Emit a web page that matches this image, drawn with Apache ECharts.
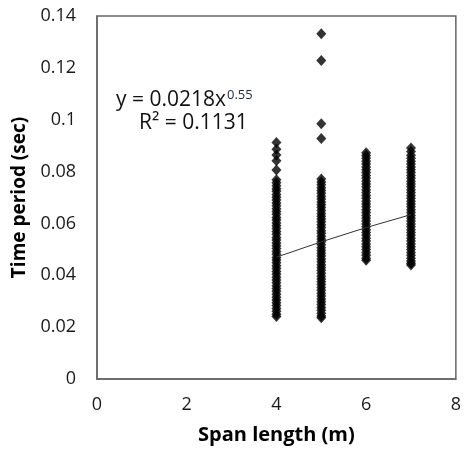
<!DOCTYPE html>
<html><head><meta charset="utf-8">
<script src="https://cdn.jsdelivr.net/npm/echarts@6/dist/echarts.min.js"></script>
<style>html,body{margin:0;padding:0;background:#fff}#c{width:464px;height:452px}</style>
</head><body><div id="c"></div>
<script>
// Span length categories (m)
const spans = [4, 5, 6, 7];
// Time period values (sec) read per span
const period4 = [0.0912,0.0886,0.0864,0.0842,0.0806,0.0768,0.0757,0.0745,0.0734,0.0724,0.0712,0.0701,0.0690,0.0679,0.0668,0.0657,0.0646,0.0635,0.0623,0.0613,0.0602,0.0591,0.0580,0.0569,0.0558,0.0546,0.0536,0.0525,0.0514,0.0503,0.0492,0.0481,0.0469,0.0459,0.0448,0.0437,0.0426,0.0415,0.0404,0.0392,0.0382,0.0371,0.0360,0.0349,0.0338,0.0327,0.0315,0.0305,0.0294,0.0283,0.0272,0.0261,0.0250,0.0241];
const period5 = [0.1332,0.1228,0.0984,0.0928,0.0771,0.0760,0.0749,0.0738,0.0727,0.0716,0.0705,0.0694,0.0683,0.0672,0.0661,0.0650,0.0638,0.0628,0.0617,0.0606,0.0595,0.0584,0.0572,0.0562,0.0551,0.0540,0.0529,0.0518,0.0506,0.0496,0.0485,0.0474,0.0463,0.0452,0.0441,0.0430,0.0419,0.0408,0.0396,0.0386,0.0375,0.0364,0.0353,0.0342,0.0331,0.0320,0.0309,0.0298,0.0287,0.0276,0.0265,0.0254,0.0243,0.0236];
const period6 = [0.0873,0.0862,0.0851,0.0840,0.0829,0.0818,0.0807,0.0796,0.0785,0.0774,0.0763,0.0752,0.0741,0.0730,0.0719,0.0708,0.0697,0.0686,0.0675,0.0664,0.0653,0.0642,0.0631,0.0620,0.0609,0.0598,0.0587,0.0576,0.0565,0.0554,0.0543,0.0532,0.0521,0.0510,0.0499,0.0488,0.0477,0.0466,0.0458];
const period7 = [0.0891,0.0877,0.0863,0.0851,0.0840,0.0829,0.0818,0.0807,0.0796,0.0785,0.0774,0.0763,0.0752,0.0741,0.0730,0.0719,0.0708,0.0697,0.0686,0.0675,0.0664,0.0653,0.0642,0.0631,0.0620,0.0609,0.0598,0.0587,0.0576,0.0565,0.0554,0.0543,0.0532,0.0521,0.0510,0.0499,0.0488,0.0477,0.0466,0.0455,0.0446,0.0440];
// Power trendline y = 0.0218 x^0.55, evaluated at the spans
const trendX = [4, 5, 6, 7];
const trendY = [0.0470, 0.0529, 0.0584, 0.0634];
// Axis ticks
const xTicks = [0, 2, 4, 6, 8];
const yTicks = [0, 0.02, 0.04, 0.06, 0.08, 0.1, 0.12, 0.14];

const columns = [period4, period5, period6, period7];
const scatterData = [];
columns.forEach((col, i) => col.forEach(v => scatterData.push([spans[i], v])));

const FONT = '"Open Sans", "Noto Sans", sans-serif';
const chart = echarts.init(document.getElementById('c'));
chart.setOption({
  animation: false,
  backgroundColor: '#fff',
  grid: {left: 97, top: 16, width: 364, height: 363, show: true, borderColor: '#666', borderWidth: 1.5, containLabel: false},
  xAxis: {
    type: 'value', min: xTicks[0], max: xTicks[xTicks.length-1], interval: 2,
    name: 'Span length (m)', nameLocation: 'middle', nameGap: 46,
    nameTextStyle: {fontFamily: FONT, fontWeight: 'bold', fontSize: 20, color: '#000'},
    axisLine: {show: true, onZero: false, lineStyle: {color: '#666', width: 1.5}},
    axisTick: {show: false},
    splitLine: {show: false},
    axisLabel: {fontFamily: FONT, fontSize: 18, color: '#1a1a1a', margin: 17}
  },
  yAxis: {
    type: 'value', min: yTicks[0], max: yTicks[yTicks.length-1], interval: 0.02,
    name: 'Time period (sec)', nameLocation: 'middle', nameGap: 62,
    nameTextStyle: {fontFamily: FONT, fontWeight: 'bold', fontSize: 19, color: '#000'},
    axisLine: {show: true, onZero: false, lineStyle: {color: '#666', width: 1.5}},
    axisTick: {show: false},
    splitLine: {show: false},
    axisLabel: {fontFamily: FONT, fontSize: 18, color: '#1a1a1a', margin: 21}
  },
  series: [
    {type: 'scatter', data: scatterData, symbol: 'diamond', symbolSize: [10, 11],
     itemStyle: {color: '#000'}},
    {type: 'line', data: trendX.map((x, i) => [x, trendY[i]]), showSymbol: false, symbol: 'none',
     lineStyle: {color: '#333', width: 1}, z: 3}
  ],
  graphic: [
    {type: 'text', left: 116, top: 89, style: {
      rich: {a: {fontFamily: FONT, fontSize: 21, fill: '#111'}, s: {fontFamily: FONT, fontSize: 13, fill: '#1f2a44', verticalAlign: 'top', padding: [0,0,10,1]}},
      text: '{a|y = 0.0218x}{s|0.55}'}},
    {type: 'text', left: 139, top: 113, style: {fontFamily: FONT, fontSize: 21, fill: '#111', text: 'R² = 0.1131'}}
  ]
});
</script></body></html>
